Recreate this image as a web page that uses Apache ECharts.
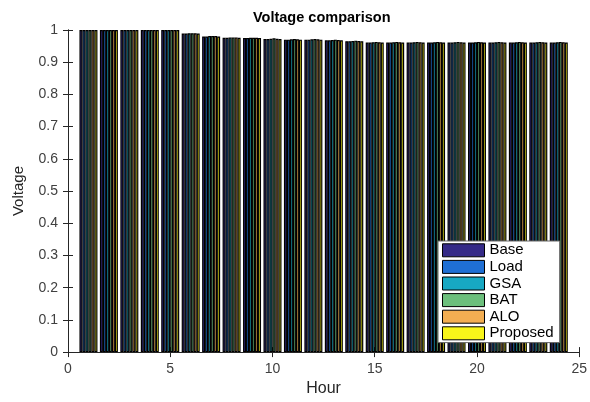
<!DOCTYPE html>
<html><head><meta charset="utf-8">
<script src="https://cdn.jsdelivr.net/npm/echarts@6/dist/echarts.min.js"></script>
<style>html,body{margin:0;padding:0;background:#fff}#c{width:590px;height:402px}</style>
</head><body><div id="c"></div>
<script>
const hours = [1,2,3,4,5,6,7,8,9,10,11,12,13,14,15,16,17,18,19,20,21,22,23,24];
const seriesNames = ['Base','Load','GSA','BAT','ALO','Proposed'];
const seriesColors = ['#352a87','#1f6fd4','#17a8c3','#6cbf7c','#f3ae52','#f9f51a'];
const base     = [1.000,1.000,1.000,1.000,1.000,0.989,0.980,0.976,0.975,0.972,0.970,0.970,0.968,0.965,0.961,0.961,0.961,0.961,0.961,0.961,0.961,0.961,0.961,0.961];
const load     = [1.000,1.000,1.000,1.000,1.000,0.989,0.980,0.976,0.975,0.972,0.970,0.970,0.968,0.965,0.961,0.961,0.961,0.961,0.961,0.961,0.961,0.961,0.961,0.961];
const gsa      = [1.000,1.000,1.000,1.000,1.000,0.990,0.981,0.977,0.976,0.973,0.971,0.971,0.969,0.966,0.962,0.962,0.962,0.962,0.962,0.962,0.962,0.962,0.962,0.962];
const bat      = [1.000,1.000,1.000,1.000,1.000,0.990,0.981,0.977,0.976,0.974,0.972,0.972,0.970,0.967,0.963,0.963,0.963,0.963,0.963,0.963,0.963,0.963,0.963,0.963];
const alo      = [1.000,1.000,1.000,1.000,1.000,0.990,0.981,0.977,0.976,0.973,0.971,0.971,0.969,0.966,0.962,0.962,0.962,0.962,0.962,0.962,0.962,0.962,0.962,0.962];
const proposed = [1.000,1.000,1.000,1.000,1.000,0.989,0.980,0.976,0.975,0.972,0.970,0.970,0.968,0.965,0.961,0.961,0.961,0.961,0.961,0.961,0.961,0.961,0.961,0.961];
const allValues = [base, load, gsa, bat, alo, proposed];
const xTicks = [0,5,10,15,20,25];
const yTicks = [0,0.1,0.2,0.3,0.4,0.5,0.6,0.7,0.8,0.9,1];

const chart = echarts.init(document.getElementById('c'), null, {renderer:'canvas'});
const font = 'Liberation Sans, Arial, sans-serif';
const axisCol = '#262626';
const series = seriesNames.map((n,i)=>({
  name:n, type:'bar', xAxisIndex:0, yAxisIndex:0,
  data: hours.map((h,j)=>[h, allValues[i][j]]),
  barWidth: 3, barGap:'0%',
  itemStyle:{color:seriesColors[i], borderColor:'#000', borderWidth:1.2},
  emphasis:{disabled:true}, animation:false
}));
chart.setOption({
  animation:false,
  backgroundColor:'#fff',
  title:{text:'Voltage comparison', left:248, top:5,
    textStyle:{fontFamily:font, fontSize:14.5, fontWeight:'bold', color:'#000'}},
  grid:{left:68, right:10, top:30, bottom:48, containLabel:false},
  legend:{orient:'vertical', left:438, top:241, itemWidth:42, itemHeight:13, itemGap:0,
    backgroundColor:'#fff', borderColor:'#666', borderWidth:1, padding:[1,6,1,4],
    textStyle:{fontFamily:font, fontSize:15, color:'#000', lineHeight:16.6, padding:[0,0,0,0]},
    itemStyle:{borderColor:'#000', borderWidth:1},
    data: seriesNames.map(n=>({name:n, icon:'rect'}))},
  xAxis:[
    {type:'value', min:0, max:25, interval:5, position:'bottom',
     name:'Hour', nameLocation:'middle', nameGap:27,
     nameTextStyle:{fontFamily:font, fontSize:16, color:axisCol},
     axisLine:{show:true, lineStyle:{color:axisCol, width:1}},
     axisTick:{show:true, inside:true, length:5, lineStyle:{color:axisCol}},
     axisLabel:{fontFamily:font, fontSize:14, color:'#404040', margin:10,
       formatter:v=>xTicks.includes(v)?String(v):''},
     splitLine:{show:false}},
    {type:'value', min:0, max:25, interval:5, position:'top',
     axisLine:{show:true, lineStyle:{color:axisCol, width:1}},
     axisTick:{show:true, inside:true, length:5, lineStyle:{color:axisCol}},
     axisLabel:{show:false}, splitLine:{show:false}}
  ],
  yAxis:[
    {type:'value', min:0, max:1, interval:0.1, position:'left',
     name:'Voltage', nameLocation:'middle', nameGap:42, nameRotate:90,
     nameTextStyle:{fontFamily:font, fontSize:15, color:axisCol},
     axisLine:{show:true, lineStyle:{color:axisCol, width:1}},
     axisTick:{show:true, inside:true, length:5, lineStyle:{color:axisCol}},
     axisLabel:{fontFamily:font, fontSize:14, color:'#404040', margin:10,
       formatter:v=>{const t=yTicks.find(k=>Math.abs(k-v)<1e-9); return t===undefined?'':String(t);}},
     splitLine:{show:false}},
    {type:'value', min:0, max:1, interval:0.1, position:'right',
     axisLine:{show:true, lineStyle:{color:axisCol, width:1}},
     axisTick:{show:true, inside:true, length:5, lineStyle:{color:axisCol}},
     axisLabel:{show:false}, splitLine:{show:false}}
  ],
  series: series
});
</script></body></html>
